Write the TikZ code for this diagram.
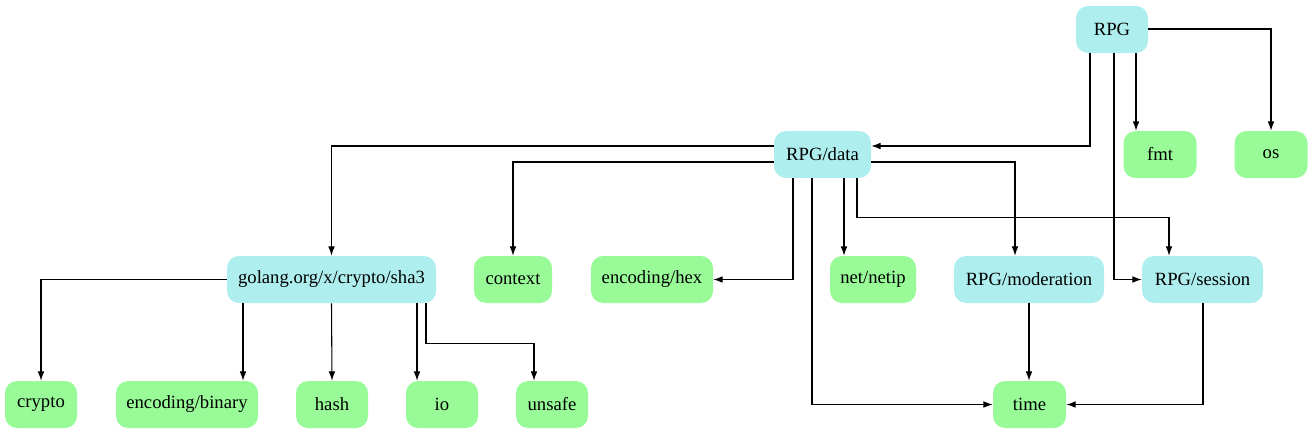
\documentclass[tikz,border=0pt]{standalone}
\usepackage{fontspec}
\setmainfont{Liberation Serif}
\usetikzlibrary{arrows.meta}

\definecolor{localpkg}{HTML}{AFEEEE}
\definecolor{stdpkg}{HTML}{98FB98}

\tikzset{
	pkg/.style={rounded corners=9pt, minimum height=35.25pt, inner sep=0pt,
		font=\fontsize{14}{16}\selectfont},
	local/.style={pkg, fill=localpkg},
	std/.style={pkg, fill=stdpkg},
	dep/.style={-{Latex[length=7pt,width=5pt]}, line width=0.8pt},
}

\begin{document}
\begin{tikzpicture}[x=0.75pt, y=-0.75pt]
	\useasboundingbox (0,0) rectangle (1312,435);
	
	% Top row
	\node[local, minimum width=54pt] (rpg) at (1112, 29.5) {RPG};
	
	% Second row
	\node[local, minimum width=72.75pt] (data) at (822.5, 154.5) {RPG/data};
	\node[std, minimum width=54.75pt] (fmt) at (1160, 154.5) {fmt};
	\node[std, minimum width=54.75pt] (os) at (1271, 154.5) {os};
	
	% Third row
	\node[local, minimum width=156.75pt] (sha3) at (331.5, 279.5) {golang.org/x/crypto/sha3};
	\node[std, minimum width=58.5pt] (context) at (513, 279.5) {context};
	\node[std, minimum width=91.5pt] (hex) at (652, 279.5) {encoding/hex};
	\node[std, minimum width=64.5pt] (netip) at (873, 279.5) {net/netip};
	\node[local, minimum width=112.5pt] (moderation) at (1029, 279.5) {RPG/moderation};
	\node[local, minimum width=90.75pt] (session) at (1202.5, 279.5) {RPG/session};
	
	% Bottom row
	\node[std, minimum width=54pt] (crypto) at (41, 404.5) {crypto};
	\node[std, minimum width=106.5pt] (binary) at (187, 404.5) {encoding/binary};
	\node[std, minimum width=54pt] (hash) at (332, 404.5) {hash};
	\node[std, minimum width=54pt] (io) at (442, 404.5) {io};
	\node[std, minimum width=54pt] (unsafe) at (552, 404.5) {unsafe};
	\node[std, minimum width=54.75pt] (time) at (1029.5, 404.5) {time};
	
	% RPG imports
	\draw[dep] (rpg.south -| 1090,0) |- (data.east |- 0,146);
	\draw[dep] (rpg.south -| 1136,0) -- (fmt.north -| 1136,0);
	\draw[dep] (rpg.east |- 0,29) -| (os.north);
	\draw[dep] (rpg.south -| 1114,0) |- (session.west);
	
	% RPG/data imports
	\draw[dep] (data.west |- 0,146) -| (sha3.north);
	\draw[dep] (data.west |- 0,162) -| (context.north);
	\draw[dep] (data.south -| 793,0) |- (hex.east);
	\draw[dep] (data.south -| 812,0) |- (time.west);
	\draw[dep] (data.south -| 844,0) -- (netip.north -| 844,0);
	\draw[dep] (data.east |- 0,162) -| (moderation.north -| 1015,0);
	\draw[dep] (data.south -| 857,0) -- ++(0,39) -| (session.north -| 1169,0);
	
	% sha3 imports
	\draw[dep] (sha3.west) -| (crypto.north);
	\draw[dep] (sha3.south -| 243,0) -- (binary.north -| 243,0);
	\draw[dep] (sha3.south) -- (hash.north);
	\draw[dep] (sha3.south -| 417,0) -- (io.north -| 417,0);
	\draw[dep] (sha3.south -| 426,0) -- ++(0,40) -| (unsafe.north -| 534,0);
	
	% time
	\draw[dep] (moderation.south) -- (moderation.south |- time.north);
	\draw[dep] (session.south -| 1203,0) |- (time.east);
\end{tikzpicture}
\end{document}
